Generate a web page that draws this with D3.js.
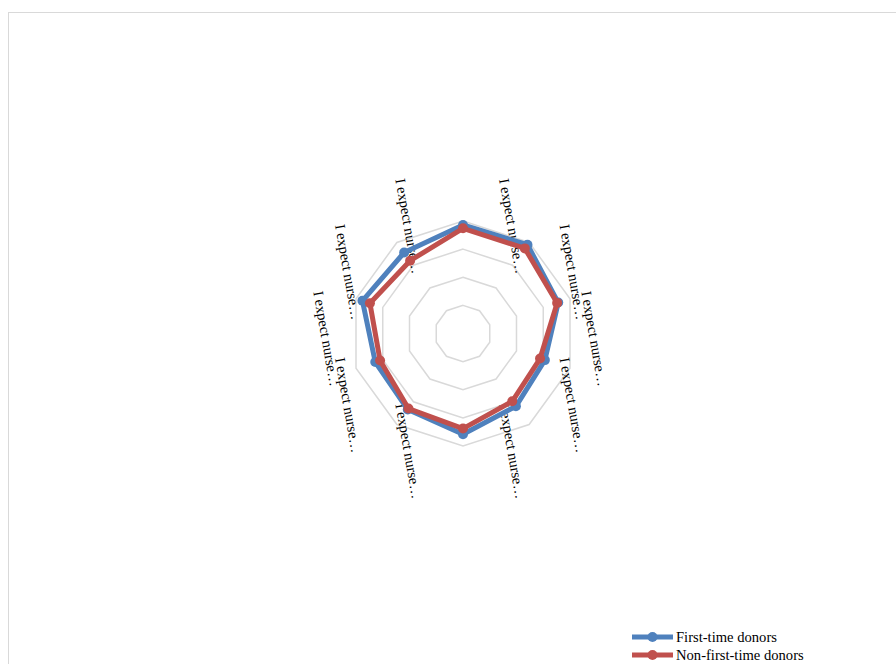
<!DOCTYPE html>
<html>
<head>
<meta charset="utf-8">
<script src="https://cdn.jsdelivr.net/npm/d3@7"></script>
<style>
  html, body { margin: 0; padding: 0; background: #fff; }
  svg { display: block; }
</style>
</head>
<body>
<svg id="chart" width="896" height="664"></svg>
<script>
// Radar chart: expectations of nurses, first-time vs. repeat donors
const categories = [
  "I expect nurse…", "I expect nurse…", "I expect nurse…", "I expect nurse…", "I expect nurse…",
  "I expect nurse…", "I expect nurse…", "I expect nurse…", "I expect nurse…", "I expect nurse…"
];
const seriesNames = ["First-time donors", "Non-first-time donors"];
const firstTime    = [4.93, 4.95, 4.78, 4.53, 4.60, 4.79, 4.67, 4.64, 4.88, 4.78];
const nonFirstTime = [4.87, 4.87, 4.76, 4.44, 4.49, 4.69, 4.65, 4.55, 4.74, 4.60];
const ringTicks = [3.5, 4.0, 4.5, 5.0];
const axisMin = 3.0, axisMax = 5.0;
const colors = ["#4f81bd", "#c0504d"];

const svg = d3.select("#chart");
const W = 896, H = 664;
const cx = 463, cy = 333.5, R = 112.5;
const n = categories.length;
const step = 2 * Math.PI / n;
const serif = "'Liberation Serif', 'Times New Roman', serif";

// chart-area border
svg.append("rect")
  .attr("x", 8.5).attr("y", 12.5)
  .attr("width", W + 10).attr("height", H + 10)
  .attr("fill", "none").attr("stroke", "#d9d9d9").attr("stroke-width", 1);

const r = d3.scaleLinear().domain([axisMin, axisMax]).range([0, R]);
const angle = i => i * step;
const pt = (i, v) => [cx + r(v) * Math.sin(angle(i)), cy - r(v) * Math.cos(angle(i))];

const g = svg.append("g");

// polygonal gridlines
g.selectAll("path.ring").data(ringTicks).enter().append("path")
  .attr("class", "ring")
  .attr("d", t => d3.line()(d3.range(n).map(i => pt(i, t))) + "Z")
  .attr("fill", "none").attr("stroke", "#d9d9d9").attr("stroke-width", 1.5);

// category labels, rotated text around the outside of the web
const lcx = cx - 2.5, lcy = cy + 5, lrx = 134, lry = 122;
g.selectAll("text.cat").data(categories).enter().append("text")
  .attr("class", "cat")
  .attr("transform", (d, i) => {
    let t = angle(i) + step / 2;
    const s = Math.sin(t) >= 0 ? 1 : -1;
    t = t + s * (5 * Math.PI / 180) * Math.cos(t);
    const x = lcx + lrx * Math.sin(t), y = lcy - lry * Math.cos(t);
    return `translate(${x},${y}) rotate(80)`;
  })
  .attr("text-anchor", "middle")
  .attr("dominant-baseline", "central")
  .attr("font-family", serif)
  .attr("font-size", 14.6)
  .attr("fill", "#000")
  .text(d => d);

// series
const series = [firstTime, nonFirstTime];
series.forEach((vals, si) => {
  const pts = vals.map((v, i) => pt(i, v));
  g.append("path")
    .attr("d", d3.line()(pts) + "Z")
    .attr("fill", "none").attr("stroke", colors[si])
    .attr("stroke-width", 5).attr("stroke-linejoin", "round");
  g.selectAll(null).data(pts).enter().append("circle")
    .attr("cx", d => d[0]).attr("cy", d => d[1]).attr("r", 5)
    .attr("fill", colors[si]);
});

// legend
const lg = svg.append("g").attr("transform", "translate(632,637)");
seriesNames.forEach((name, i) => {
  const row = lg.append("g").attr("transform", `translate(0,${i * 18})`);
  row.append("line").attr("x1", 0).attr("x2", 41).attr("y1", 0).attr("y2", 0)
    .attr("stroke", colors[i]).attr("stroke-width", 5);
  row.append("circle").attr("cx", 20.5).attr("cy", 0).attr("r", 5).attr("fill", colors[i]);
  row.append("text").attr("x", 44).attr("y", 0)
    .attr("dominant-baseline", "central")
    .attr("font-family", serif)
    .attr("font-size", 14.6).attr("fill", "#000")
    .text(name);
});
</script>
</body>
</html>
